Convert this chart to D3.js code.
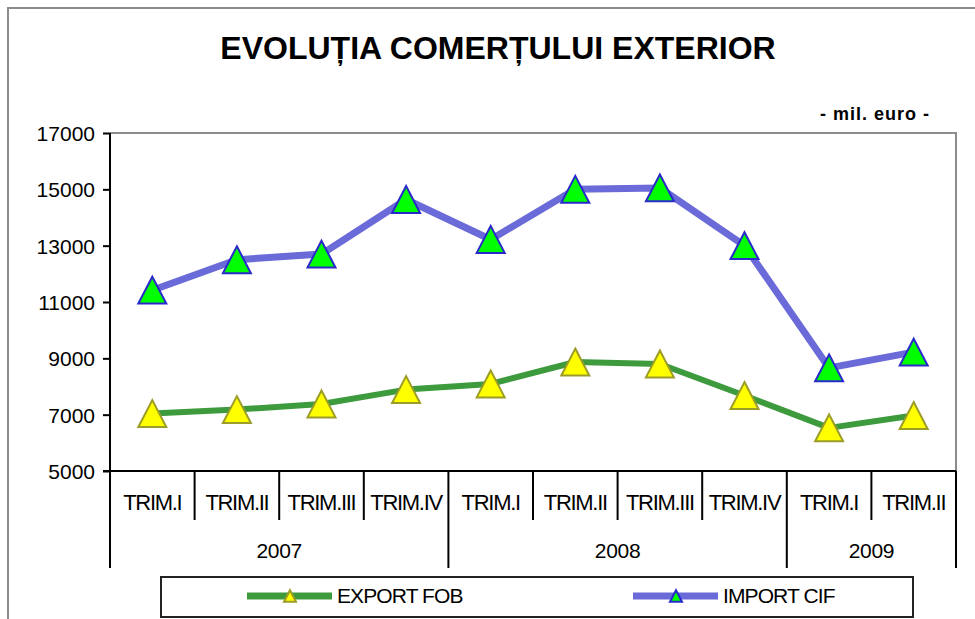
<!DOCTYPE html>
<html>
<head>
<meta charset="utf-8">
<script src="https://cdn.jsdelivr.net/npm/d3@7"></script>
<style>
  body { margin: 0; background: #fff; }
  svg { display: block; font-family: "Liberation Sans", Arial, sans-serif; }
</style>
</head>
<body>
<div id="wrapper"></div>
<script>
// data
const quarters = ["TRIM.I", "TRIM.II", "TRIM.III", "TRIM.IV", "TRIM.I", "TRIM.II", "TRIM.III", "TRIM.IV", "TRIM.I", "TRIM.II"];
const years = ["2007", "2008", "2009"];
const quartersPerYear = [4, 4, 2];
const exportFob = [7040, 7180, 7380, 7890, 8090, 8870, 8800, 7680, 6530, 6970];
const importCif = [11420, 12500, 12700, 14640, 13220, 15000, 15050, 13000, 8660, 9220];
const yTicks = [5000, 7000, 9000, 11000, 13000, 15000, 17000];

const width = 975;
const height = 619;
const plot = { left: 110, right: 956, top: 133, bottom: 471 };

const svg = d3.select("#wrapper")
  .append("svg")
  .attr("width", width)
  .attr("height", height);

// outer frame
svg.append("rect")
  .attr("x", 8).attr("y", 8)
  .attr("width", 1000).attr("height", 1000)
  .attr("fill", "none")
  .attr("stroke", "#8c8c8c")
  .attr("stroke-width", 2);

svg.append("text")
  .attr("x", 498)
  .attr("y", 59)
  .attr("text-anchor", "middle")
  .attr("font-size", 32)
  .attr("font-weight", "bold")
  .text("EVOLUȚIA COMERȚULUI EXTERIOR");

svg.append("text")
  .attr("x", 930)
  .attr("y", 120)
  .attr("text-anchor", "end")
  .attr("font-size", 18)
  .attr("font-weight", "bold")
  .attr("letter-spacing", 1)
  .text("- mil. euro -");

let x = d3.scaleBand()
  .domain(d3.range(quarters.length))
  .range([plot.left, plot.right]);

let y = d3.scaleLinear()
  .domain([5000, 17000])
  .range([plot.bottom, plot.top]);

// plot area border (top + right, gray)
svg.append("path")
  .attr("d", `M${plot.left},${plot.top}H${plot.right}V${plot.bottom}`)
  .attr("fill", "none")
  .attr("stroke", "#8c8c8c")
  .attr("stroke-width", 2);

// y axis
let yAxis = svg.append("g")
  .attr("transform", `translate(${plot.left},0)`)
  .call(d3.axisLeft(y).tickValues(yTicks).tickSize(7).tickPadding(8).tickFormat(d3.format("d")));
yAxis.select(".domain").remove();
yAxis.selectAll(".tick line").attr("stroke", "#000").attr("stroke-width", 2);
yAxis.selectAll(".tick text")
  .attr("font-size", 21)
  .attr("font-family", "Liberation Sans, Arial, sans-serif")
  .attr("fill", "#000")
  .attr("dy", "0.36em");

svg.append("line")
  .attr("x1", plot.left).attr("x2", plot.left)
  .attr("y1", plot.top).attr("y2", 568)
  .attr("stroke", "#000").attr("stroke-width", 2);

svg.append("line")
  .attr("x1", plot.left - 7).attr("x2", plot.right)
  .attr("y1", plot.bottom).attr("y2", plot.bottom)
  .attr("stroke", "#000").attr("stroke-width", 2);

// category dividers
let yearEnds = d3.cumsum(quartersPerYear);
svg.append("g")
  .selectAll("line")
  .data(d3.range(1, quarters.length + 1))
  .join("line")
  .attr("x1", i => x(i - 1) + x.bandwidth())
  .attr("x2", i => x(i - 1) + x.bandwidth())
  .attr("y1", plot.bottom)
  .attr("y2", i => yearEnds.includes(i) ? 568 : 520)
  .attr("stroke", "#000")
  .attr("stroke-width", 2);

svg.append("g")
  .selectAll("text")
  .data(quarters)
  .join("text")
  .attr("x", (d, i) => x(i) + x.bandwidth() / 2)
  .attr("y", 510)
  .attr("text-anchor", "middle")
  .attr("font-size", 22)
  .attr("letter-spacing", -1.3)
  .text(d => d);

let yearStarts = [0, ...yearEnds.slice(0, -1)];
svg.append("g")
  .selectAll("text")
  .data(years)
  .join("text")
  .attr("x", (d, i) => (x(yearStarts[i]) + x(yearEnds[i] - 1) + x.bandwidth()) / 2)
  .attr("y", 558)
  .attr("text-anchor", "middle")
  .attr("font-size", 21)
  .attr("letter-spacing", -0.3)
  .text(d => d);

// markers
const triangle = {
  draw(context, size) {
    const w = Math.sqrt(size);
    context.moveTo(0, -w * 0.48);
    context.lineTo(w / 2, w * 0.48);
    context.lineTo(-w / 2, w * 0.48);
    context.closePath();
  }
};

let series = [
  { name: "EXPORT FOB", values: exportFob, line: "#3d9a3d", lineWidth: 6, fill: "#ffff00", stroke: "#9c9c28" },
  { name: "IMPORT CIF", values: importCif, line: "#6a6ad8", lineWidth: 7, fill: "#00ff00", stroke: "#2a2acc" }
];

let line = d3.line()
  .x((d, i) => x(i) + x.bandwidth() / 2)
  .y(d => y(d));

series.forEach(s => {
  svg.append("path")
    .datum(s.values)
    .attr("d", line)
    .attr("fill", "none")
    .attr("stroke", s.line)
    .attr("stroke-width", s.lineWidth)
    .attr("stroke-linejoin", "round");

  svg.append("g")
    .selectAll("path")
    .data(s.values)
    .join("path")
    .attr("transform", (d, i) => `translate(${x(i) + x.bandwidth() / 2},${y(d)})`)
    .attr("d", d3.symbol().type(triangle).size(28 * 28))
    .attr("fill", s.fill)
    .attr("stroke", s.stroke)
    .attr("stroke-width", 2);
});

// legend
let legend = svg.append("g");
legend.append("rect")
  .attr("x", 161).attr("y", 577)
  .attr("width", 752).attr("height", 40)
  .attr("fill", "#fff")
  .attr("stroke", "#222")
  .attr("stroke-width", 2);

let legendX = [247, 633];
series.forEach((s, i) => {
  let g = legend.append("g").attr("transform", `translate(${legendX[i]},596)`);
  g.append("line")
    .attr("x1", 0).attr("x2", 85)
    .attr("stroke", s.line)
    .attr("stroke-width", 7);
  g.append("path")
    .attr("transform", "translate(43,0)")
    .attr("d", d3.symbol().type(triangle).size(12 * 12))
    .attr("fill", s.fill)
    .attr("stroke", s.stroke)
    .attr("stroke-width", 2);
  g.append("text")
    .attr("x", 90)
    .attr("y", 7)
    .attr("font-size", 21)
    .attr("letter-spacing", -0.9)
    .text(s.name);
});
</script>
</body>
</html>
